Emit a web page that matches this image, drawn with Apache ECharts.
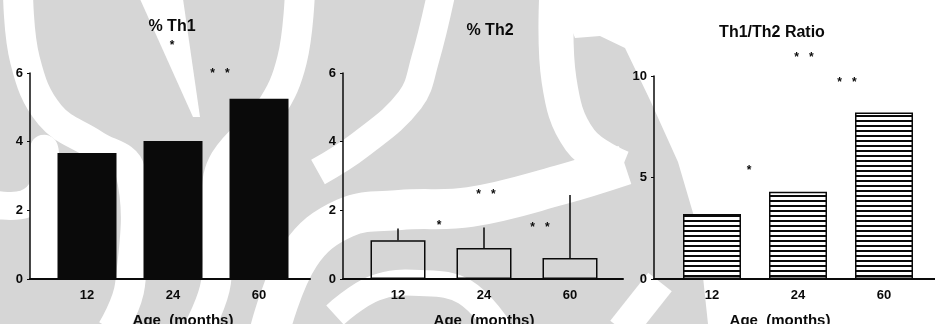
<!DOCTYPE html>
<html lang="en">
<head>
<meta charset="UTF-8" />
<title>Th1 / Th2 by age</title>
<style>
  * { padding: 0; margin: 0; }
  html, body { width: 100%; height: 100%; background: #fff; }
  #main { width: 935px; height: 324px; }
</style>
</head>
<body>
<div id="main"></div>
<script src="https://cdn.jsdelivr.net/npm/echarts@6/dist/echarts.min.js"></script>
<script>
  // data
  var ages = ['12', '24', '60'];
  var th1 = [3.67, 4.02, 5.25];
  var th2 = [1.13, 0.9, 0.61];
  var th2Err = [0.34, 0.6, 1.84];
  var ratio = [3.2, 4.3, 8.2];
  var pctTicks = [0, 2, 4, 6];
  var ratioTicks = [0, 5, 10];

  var myChart = echarts.init(document.getElementById('main'));
  var ink = '#0a0a0a';
  var font = 'Liberation Sans';

  // horizontal hatch for the ratio bars
  var stripe = document.createElement('canvas');
  stripe.width = 8;
  stripe.height = 5;
  var ctx = stripe.getContext('2d');
  ctx.fillStyle = '#fff';
  ctx.fillRect(0, 0, 8, 5);
  ctx.fillStyle = ink;
  ctx.fillRect(0, 0, 8, 2);

  // frame grids carry the y axis + long baseline, bar grids carry the categories
  var panels = [
    { frame: 30, width: 280, bars: 44, top: 73, height: 206 },
    { frame: 343, width: 280, bars: 355, top: 73, height: 206 },
    { frame: 654, width: 281, bars: 669, top: 76, height: 203 }
  ];
  var grids = [];
  panels.forEach(function (p) {
    grids.push({ left: p.frame, width: p.width, top: p.top, height: p.height, outerBoundsMode: 'none' });
    grids.push({ left: p.bars, width: 258, top: p.top, height: p.height, outerBoundsMode: 'none' });
  });

  var namePads = [[0, 0, 0, 20], [0, 0, 0, 0], [0, 36, 0, 0]];
  var xAxes = [];
  var yAxes = [];
  panels.forEach(function (p, i) {
    var ticks = i === 2 ? ratioTicks : pctTicks;
    var range = { min: ticks[0], max: ticks[ticks.length - 1], interval: ticks[1] - ticks[0] };
    xAxes.push({
      type: 'value', gridIndex: i * 2, min: 0, max: 1, z: 3,
      axisLine: { lineStyle: { color: ink, width: 2 } },
      axisTick: { show: false }, axisLabel: { show: false }, splitLine: { show: false }
    });
    xAxes.push({
      type: 'category', gridIndex: i * 2 + 1, data: ages, z: 3,
      axisLine: { show: false }, axisTick: { show: false },
      axisLabel: { color: ink, fontSize: 13, fontWeight: 'bold', fontFamily: font, margin: 10 },
      name: 'Age  (months)', nameLocation: 'middle', nameGap: 34,
      nameTextStyle: { color: ink, fontSize: 15, fontWeight: 'bold', fontFamily: font, padding: namePads[i] }
    });
    yAxes.push(Object.assign({
      type: 'value', gridIndex: i * 2, z: 3,
      axisLine: { show: true, lineStyle: { color: ink, width: 1.5 } },
      axisTick: { show: true, length: 3, lineStyle: { color: ink } },
      axisLabel: { color: ink, fontSize: 13, fontWeight: 'bold', fontFamily: font, margin: 7 },
      splitLine: { show: false }
    }, range));
    yAxes.push(Object.assign({ type: 'value', gridIndex: i * 2 + 1, show: false }, range));
  });

  var titles = [
    { text: '% Th1', x: 172, y: 27 },
    { text: '% Th2', x: 490, y: 31 },
    { text: 'Th1/Th2 Ratio', x: 772, y: 33 }
  ];
  var stars = [
    { text: '*', x: 172, y: 46 },
    { text: '*   *', x: 220, y: 74 },
    { text: '*', x: 439, y: 226 },
    { text: '*   *', x: 486, y: 195 },
    { text: '*   *', x: 540, y: 228 },
    { text: '*   *', x: 804, y: 58 },
    { text: '*   *', x: 847, y: 83 },
    { text: '*', x: 749, y: 171 }
  ];

  // faint watermark behind the figure
  var wm = '#d6d6d6';
  function band(points, w) {
    return { type: 'polyline', z: 0, silent: true, shape: { points: points, smooth: 0.4 },
      style: { stroke: '#fff', lineWidth: w, fill: null } };
  }
  var watermark = [
    { type: 'polygon', z: 0, silent: true,
      shape: { points: [[0, 0], [560, 0], [575, 38], [600, 36], [625, 48], [650, 100], [678, 162], [698, 230], [708, 324], [0, 324]] },
      style: { fill: wm } },
    band([[557, -10], [559, 80], [580, 140], [622, 168]], 35),
    band([[625, 165], [560, 185], [470, 207], [400, 210], [345, 218], [300, 255], [270, 330]], 40),
    band([[335, 315], [375, 288], [420, 283], [465, 292], [500, 330]], 26),
    band([[660, 282], [622, 330]], 30),
    band([[18, -10], [25, 60], [50, 115], [95, 145], [130, 170], [130, 285], [112, 330]], 30),
    band([[-10, 204], [25, 204], [44, 185], [44, 150], [44, 278]], 28),
    { type: 'polygon', z: 0, silent: true,
      shape: { points: [[140, -1], [183, -1], [200, 117], [193, 117]] }, style: { fill: '#fff' } },
    band([[300, -10], [292, 60], [270, 110], [225, 160], [216, 200], [216, 282], [198, 330]], 30),
    band([[442, -10], [425, 60], [410, 100], [360, 145], [318, 172]], 28)
  ];

  var graphics = watermark.concat(titles.map(function (t) {
    return { type: 'text', z: 10, x: t.x, y: t.y,
      style: { text: t.text, fill: ink, fontSize: 16, fontWeight: 'bold', fontFamily: font, textAlign: 'center', textVerticalAlign: 'middle' } };
  })).concat(stars.map(function (s) {
    return { type: 'text', z: 10, x: s.x, y: s.y,
      style: { text: s.text, fill: ink, fontSize: 12, fontWeight: 'bold', fontFamily: font, textAlign: 'center', textVerticalAlign: 'middle' } };
  }));

  var option = {
    animation: false,
    backgroundColor: '#fff',
    grid: grids,
    xAxis: xAxes,
    yAxis: yAxes,
    graphic: graphics,
    series: [
      {
        name: '% Th1', type: 'bar', xAxisIndex: 1, yAxisIndex: 1, z: 4,
        barWidth: 59, data: th1, itemStyle: { color: ink }
      },
      {
        name: '% Th2', type: 'bar', xAxisIndex: 3, yAxisIndex: 3, z: 4,
        barWidth: 55, data: th2,
        itemStyle: { color: 'rgba(0,0,0,0)', borderColor: ink, borderWidth: 1.5 }
      },
      {
        name: '% Th2 SE', type: 'custom', xAxisIndex: 3, yAxisIndex: 3, z: 5,
        data: ages.map(function (a, i) { return [i, th2[i], th2[i] + th2Err[i]]; }),
        renderItem: function (params, api) {
          var lo = api.coord([api.value(0), api.value(1)]);
          var hi = api.coord([api.value(0), api.value(2)]);
          return { type: 'line', shape: { x1: lo[0], y1: lo[1], x2: hi[0], y2: hi[1] },
            style: { stroke: ink, lineWidth: 1.5 } };
        }
      },
      {
        name: 'Th1/Th2 Ratio', type: 'bar', xAxisIndex: 5, yAxisIndex: 5, z: 4,
        barWidth: 58, data: ratio,
        itemStyle: { color: { image: stripe, repeat: 'repeat' }, borderColor: ink, borderWidth: 1.5 }
      }
    ]
  };
  myChart.setOption(option);
</script>
</body>
</html>
